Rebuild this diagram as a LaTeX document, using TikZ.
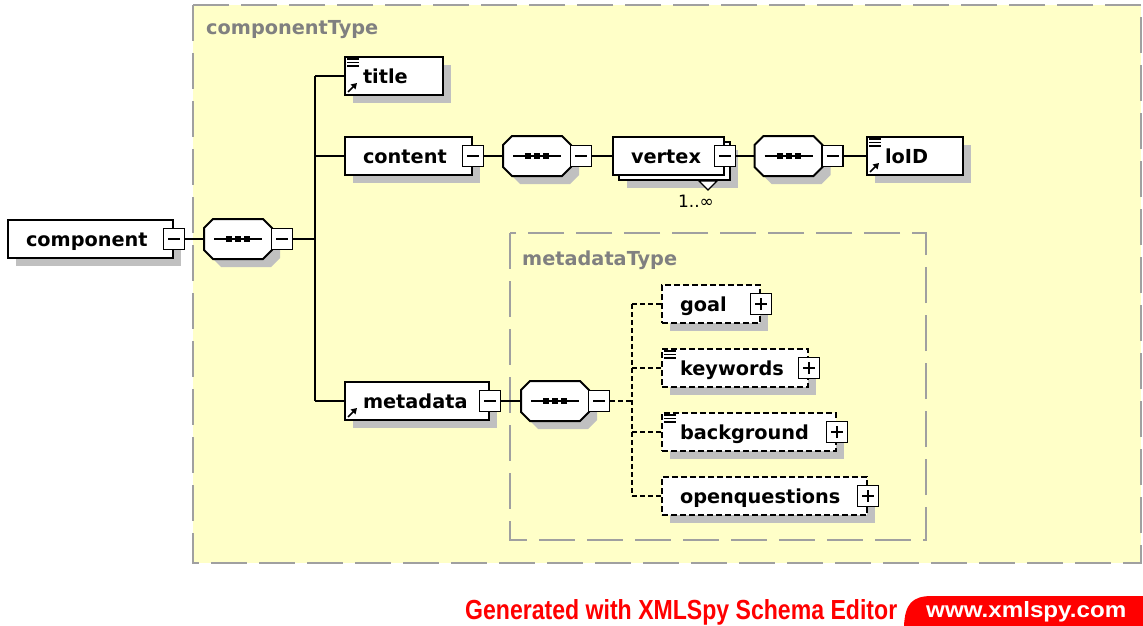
\documentclass[tikz,border=0pt]{standalone}
\usepackage{graphicx}
\usepackage{fontspec}
\setmainfont{DejaVu Sans}
\newfontfamily\brandfont{Liberation Sans}
\usetikzlibrary{arrows.meta,shadows,calc}

\definecolor{paleyellow}{RGB}{255,255,200}
\definecolor{framegray}{RGB}{160,160,160}
\definecolor{labelgray}{RGB}{128,128,128}
\definecolor{shadowgray}{RGB}{192,192,192}
\definecolor{xsred}{RGB}{255,0,0}

\tikzset{
  elem/.style={draw=black, line width=2pt, fill=white, inner xsep=18pt, inner ysep=0pt,
    minimum height=38pt, text width=#1, align=left, text height=16pt, text depth=2pt,
    font=\bfseries\fontsize{19.3}{20}\selectfont},
  optelem/.style={elem=#1, dash pattern=on 6pt off 3pt},
  sh/.style={drop shadow={shadow xshift=8pt, shadow yshift=-8pt, fill=shadowgray, draw=none, opacity=1}},
  ctrl/.style={draw=black, line width=1.5pt, fill=white, minimum size=21pt, inner sep=0pt},
  minusbox/.style={ctrl, path picture={
    \draw[line width=1.4pt] ([xshift=-6pt]path picture bounding box.center) -- ([xshift=6pt]path picture bounding box.center);}},
  plusbox/.style={ctrl, path picture={
    \draw[line width=1.4pt] ([xshift=-6pt]path picture bounding box.center) -- ([xshift=6pt]path picture bounding box.center);
    \draw[line width=1.4pt] ([yshift=-6pt]path picture bounding box.center) -- ([yshift=6pt]path picture bounding box.center);}},
  seqanchor/.style={rectangle, minimum width=68pt, minimum height=40pt, inner sep=0pt, outer sep=0pt},
  octagon/.style={insert path={(-25,-20) -- (25,-20) -- (34,-11) -- (34,11) -- (25,20) -- (-25,20) -- (-34,11) -- (-34,-11) -- cycle}},
  conn/.style={draw=black, line width=1.6pt},
  dconn/.style={draw=black, line width=1.6pt, dash pattern=on 5pt off 3pt},
  frame/.style={draw=framegray, line width=2pt, dash pattern=on 36pt off 12pt},
  typelabel/.style={anchor=base west, inner sep=0pt, text=labelgray, font=\bfseries\fontsize{19.3}{20}\selectfont},
}

% sequence compositor: octagon with dotted bar and a collapse box on its right
\newcommand\seqgroup[3]{%
  \begin{scope}[shift={(#2,#3)}]
    \fill[shadowgray, shift={(8,8)}, octagon];
    \draw[line width=2pt, fill=white, octagon];
    \draw[line width=1.4pt] (-24,0) -- (24,0);
    \foreach \dx in {-9,0,9} \fill (\dx-3,-3) rectangle (\dx+3,3);
  \end{scope}
  \node[seqanchor] (#1) at (#2,#3) {};
  \node[minusbox] (#1m) at ($(#1.east)+(10,0)$) {};
}
% documentation mark (three short lines, top left)
\newcommand\docmark[1]{%
  \foreach \dy in {3,6.5,10}
    \draw[line width=1.2pt] ([xshift=3pt,yshift=-\dy pt]#1.north west) -- ++(12,0);
}
% reference mark (small arrow, bottom left)
\newcommand\refmark[1]{%
  \draw[line width=1.7pt, -{Triangle[length=5.5pt,width=6.5pt]}] ([xshift=4pt,yshift=4pt]#1.south west) -- ++(9,-9);
}

\begin{document}
\begin{tikzpicture}[x=1pt,y=-1pt]
\useasboundingbox (0,0) rectangle (1143,626);
\fill[white] (0,0) rectangle (1143,626);

% complex type frames
\draw[frame, fill=paleyellow] (193,5) rectangle (1141,563);
\node[typelabel] (ctlabel) at (206,35) {componentType};
\draw[frame] (510,233) rectangle (926,540);
\node[typelabel] (mtlabel) at (522,265) {metadataType};

% root element
\node[elem=129pt, sh] (component) at (90.5,239) {component};
\node[minusbox] (componentm) at (component.east) {};
\seqgroup{seqA}{238}{239}
\coordinate (trunk) at (315,239);

% children of the first sequence
\node[elem=62pt, sh] (title) at (394,76) {title};
\docmark{title}\refmark{title}

\node[elem=91pt, sh] (content) at (408.5,156) {content};
\node[minusbox] (contentm) at (content.east) {};
\seqgroup{seqB}{537}{156}

\node[elem=75pt, sh] (vertexback) at (674.5,161) {};
\node[elem=75pt] (vertex) at (668.5,156) {vertex};
\node[minusbox] (vertexm) at (vertex.east) {};
\coordinate (vtri) at ($(vertexback.south east)+(-23,0)$);
\draw[line width=1.2pt, fill=white] ($(vtri)+(-9,0)$) -- ($(vtri)+(9,0)$) -- ($(vtri)+(0,9)$) -- cycle;
\node[inner sep=0pt, font=\fontsize{17}{18}\selectfont] (mult) at (696,201) {1..∞};
\seqgroup{seqC}{788.5}{156}

\node[elem=60pt, sh] (loID) at (915,156) {loID};
\docmark{loID}\refmark{loID}

\node[elem=108pt, sh] (metadata) at (417,401) {metadata};
\refmark{metadata}
\node[minusbox] (metadatam) at (metadata.east) {};
\seqgroup{seqD}{555}{401}
\coordinate (mbus) at (632,401);

% optional children of metadataType
\node[optelem=62pt, sh] (goal) at (711,304) {goal};
\node[plusbox] (goalp) at (goal.east) {};
\node[optelem=110pt, sh] (keywords) at (735,368) {keywords};
\docmark{keywords}
\node[plusbox] (keywordsp) at (keywords.east) {};
\node[optelem=138pt, sh] (background) at (749,432) {background};
\docmark{background}
\node[plusbox] (backgroundp) at (background.east) {};
\node[optelem=169pt, sh] (openq) at (764.5,496) {openquestions};
\node[plusbox] (openqp) at (openq.east) {};

% connectors
\draw[conn] (componentm.east) -- (seqA.west);
\draw[conn] (seqAm.east) -- (trunk);
\draw[conn] (title.west -| trunk) -- (metadata.west -| trunk);
\draw[conn] (title.west -| trunk) -- (title.west);
\draw[conn] (content.west -| trunk) -- (content.west);
\draw[conn] (metadata.west -| trunk) -- (metadata.west);
\draw[conn] (contentm.east) -- (seqB.west);
\draw[conn] (seqBm.east) -- (vertex.west);
\draw[conn] (vertexm.east) -- (seqC.west);
\draw[conn] (seqCm.east) -- (loID.west);
\draw[conn] (metadatam.east) -- (seqD.west);
\draw[dconn] (seqDm.east) -- (mbus);
\draw[dconn] (goal.west -| mbus) -- (openq.west -| mbus);
\draw[dconn] (goal.west -| mbus) -- (goal.west);
\draw[dconn] (keywords.west -| mbus) -- (keywords.west);
\draw[dconn] (background.west -| mbus) -- (background.west);
\draw[dconn] (openq.west -| mbus) -- (openq.west);

% footer
\node[anchor=base west, inner sep=0pt, text=xsred, font=\brandfont\bfseries] (gen) at (465,619)
  {\resizebox{432pt}{20pt}{Generated with XMLSpy Schema Editor}};
\fill[xsred] (904,626) .. controls (905,604) and (912,596) .. (932,596) -- (1143,596) -- (1143,626) -- cycle;
\node[anchor=base west, inner sep=0pt, text=white, font=\brandfont\bfseries] (url) at (926,617)
  {\resizebox{200pt}{16pt}{www.xmlspy.com}};
\end{tikzpicture}
\end{document}
